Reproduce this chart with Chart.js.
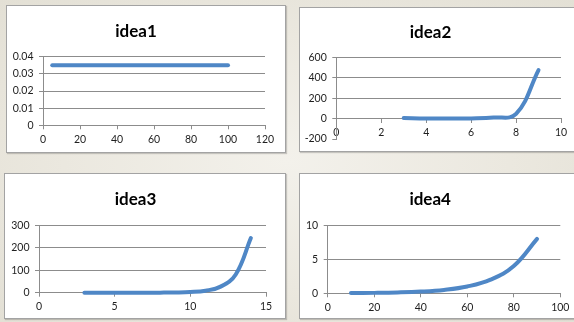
<!DOCTYPE html>
<html>
<head>
<meta charset="utf-8">
<script src="https://cdn.jsdelivr.net/npm/chart.js@4.4.1/dist/chart.umd.min.js"></script>
<style>
  html, body { margin: 0; padding: 0; width: 574px; height: 322px; overflow: hidden; }
  body {
    position: relative;
    background: radial-gradient(ellipse at 50% 50%, #f3f1eb 0%, #ebe8df 55%, #e3e0d5 100%);
  }
  .panel {
    position: absolute;
    background: #ffffff;
    border: 1px solid #a3a3a3;
    box-shadow: 1px 1px 1px rgba(0, 0, 0, 0.18);
  }
  .panel canvas { display: block; }
</style>
</head>
<body>
<div class="panel" style="left:6px;top:5px;"><canvas id="c1" width="278" height="146"></canvas></div>
<div class="panel" style="left:299px;top:7px;"><canvas id="c2" width="278" height="143"></canvas></div>
<div class="panel" style="left:4px;top:173px;"><canvas id="c3" width="280" height="144"></canvas></div>
<div class="panel" style="left:299px;top:173px;"><canvas id="c4" width="281" height="144"></canvas></div>
<script>
// idea1: flat series
const idea1X = [5, 10, 15, 20, 25, 30, 35, 40, 45, 50, 55, 60, 65, 70, 75, 80, 85, 90, 95, 100];
const idea1Y = [0.035, 0.035, 0.035, 0.035, 0.035, 0.035, 0.035, 0.035, 0.035, 0.035,
                0.035, 0.035, 0.035, 0.035, 0.035, 0.035, 0.035, 0.035, 0.035, 0.035];
const idea1XTicks = [0, 20, 40, 60, 80, 100, 120];
const idea1YTicks = [0, 0.01, 0.02, 0.03, 0.04];
const idea1YLabels = ['0', '0.01', '0.02', '0.03', '0.04'];

// idea2: flat, then a sharp rise
const idea2X = [3, 4, 5, 6, 7, 8, 9];
const idea2Y = [5, 0, 0, 1, 10, 45, 475];
const idea2XTicks = [0, 2, 4, 6, 8, 10];
const idea2YTicks = [-200, 0, 200, 400, 600];
const idea2YLabels = ['-200', '0', '200', '400', '600'];

// idea3: grows threefold per step
const idea3X = [3, 4, 5, 6, 7, 8, 9, 10, 11, 12, 13, 14];
const idea3Y = [0.0014, 0.0041, 0.0123, 0.037, 0.111, 0.333, 1, 3, 9, 27, 81, 243];
const idea3XTicks = [0, 5, 10, 15];
const idea3YTicks = [0, 100, 200, 300];
const idea3YLabels = ['0', '100', '200', '300'];

// idea4: doubles every ten
const idea4X = [10, 20, 30, 40, 50, 60, 70, 80, 90];
const idea4Y = [0.031, 0.0625, 0.125, 0.25, 0.5, 1, 2, 4, 8];
const idea4XTicks = [0, 20, 40, 60, 80, 100];
const idea4YTicks = [0, 5, 10];
const idea4YLabels = ['0', '5', '10'];

const GRID = '#8c8c8c';
const LINE = '#4f87c6';
const FONT = 'Lato, "Liberation Sans", Arial, sans-serif';
const TITLE_SIZE = 17;
const TICK_SIZE = 10.5;

function points(xs, ys) {
  return xs.map((x, i) => ({ x: x, y: ys[i] }));
}

function makeChart(id, s) {
  const lh = TITLE_SIZE * 1.2;
  const padTop = s.titleCenter - lh / 2;
  const padBottom = s.plotTop - padTop - lh;
  const xScale = {
    type: 'linear',
    min: s.xTicks[0],
    max: s.xTicks[s.xTicks.length - 1],
    position: s.xPosition || 'bottom',
    afterBuildTicks: (sc) => { sc.ticks = s.xTicks.map(v => ({ value: v })); },
    ticks: {
      font: { family: FONT, size: TICK_SIZE },
      color: '#1e1e1e',
      padding: 4,
      maxRotation: 0,
      autoSkip: false,
      callback: (v, i) => String(s.xTicks[i])
    },
    grid: { drawOnChartArea: false, drawTicks: true, tickLength: 4, color: GRID, tickColor: GRID },
    border: { display: true, color: GRID, width: 1 }
  };
  if (s.xHeight != null) {
    xScale.afterFit = (sc) => { sc.height = s.xHeight; };
  }
  const yScale = {
    type: 'linear',
    min: s.yTicks[0],
    max: s.yTicks[s.yTicks.length - 1],
    afterBuildTicks: (sc) => { sc.ticks = s.yTicks.map(v => ({ value: v })); },
    afterFit: (sc) => { sc.width = s.yWidth; },
    ticks: {
      font: { family: FONT, size: TICK_SIZE },
      color: '#1e1e1e',
      padding: 5.5,
      autoSkip: false,
      callback: (v, i) => s.yLabels[i]
    },
    grid: {
      drawTicks: true,
      tickLength: 4,
      tickColor: GRID,
      color: (ctx) => (s.hideGridAt != null && ctx.tick && ctx.tick.value === s.hideGridAt) ? 'rgba(0,0,0,0)' : GRID
    },
    border: { display: true, color: GRID, width: 1 }
  };
  return new Chart(document.getElementById(id), {
    type: 'scatter',
    data: {
      datasets: [{
        data: points(s.xs, s.ys),
        showLine: true,
        borderColor: LINE,
        backgroundColor: LINE,
        borderWidth: 4,
        borderCapStyle: 'round',
        borderJoinStyle: 'round',
        pointRadius: 0,
        pointHoverRadius: 0,
        tension: 0.4,
        clip: 8
      }]
    },
    options: {
      responsive: false,
      animation: false,
      devicePixelRatio: 1,
      layout: { padding: { left: 0, right: s.padRight, top: 0, bottom: s.padBottom || 0 } },
      plugins: {
        legend: { display: false },
        tooltip: { enabled: false },
        title: {
          display: true,
          text: s.title,
          color: '#000000',
          font: { family: FONT, size: TITLE_SIZE, weight: 'bold' },
          padding: { top: padTop, bottom: padBottom }
        }
      },
      scales: { x: xScale, y: yScale }
    }
  });
}

makeChart('c1', {
  title: 'idea1', xs: idea1X, ys: idea1Y,
  xTicks: idea1XTicks, yTicks: idea1YTicks, yLabels: idea1YLabels,
  titleCenter: 26, plotTop: 50.7, yWidth: 36, padRight: 20, xHeight: 26.7
});
makeChart('c2', {
  title: 'idea2', xs: idea2X, ys: idea2Y,
  xTicks: idea2XTicks, yTicks: idea2YTicks, yLabels: idea2YLabels,
  titleCenter: 24.3, plotTop: 49.3, yWidth: 36.3, padRight: 17, padBottom: 12,
  xPosition: { y: 0 }, hideGridAt: -200
});
makeChart('c3', {
  title: 'idea3', xs: idea3X, ys: idea3Y,
  xTicks: idea3XTicks, yTicks: idea3YTicks, yLabels: idea3YLabels,
  titleCenter: 25.3, plotTop: 51.3, yWidth: 34, padRight: 19, xHeight: 25.3
});
makeChart('c4', {
  title: 'idea4', xs: idea4X, ys: idea4Y,
  xTicks: idea4XTicks, yTicks: idea4YTicks, yLabels: idea4YLabels,
  titleCenter: 25.3, plotTop: 51.3, yWidth: 27.7, padRight: 20.7, xHeight: 24.7
});
</script>
</body>
</html>
